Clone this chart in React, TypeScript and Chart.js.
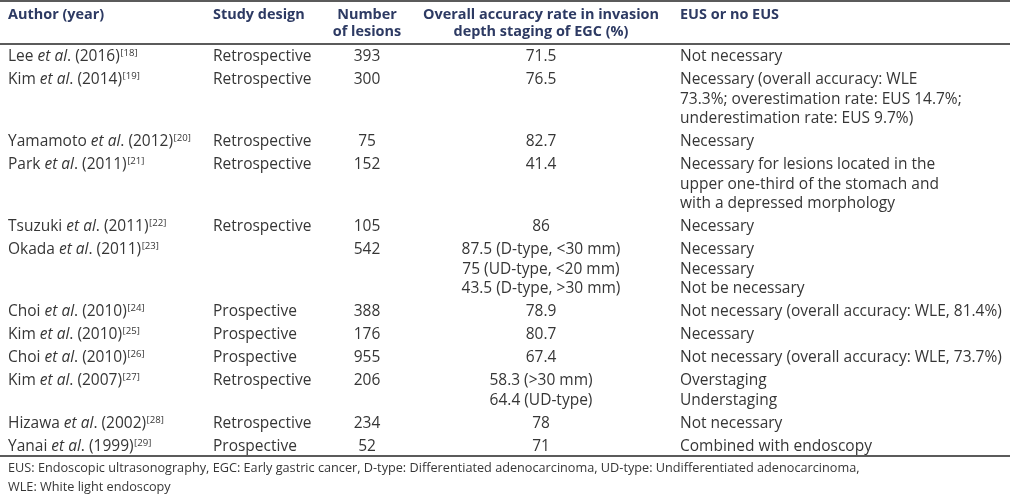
import React, { useEffect, useRef } from "react";
import { Chart, registerables } from "chart.js";

Chart.register(...registerables);

// ---------- data ----------
const headers: string[][] = [
  ["Author (year)"],
  ["Study design"],
  ["Number", "of lesions"],
  ["Overall accuracy rate in invasion", "depth staging of EGC (%)"],
  ["EUS or no EUS"],
];
const authors = ["Lee", "Kim", "Yamamoto", "Park", "Tsuzuki", "Okada", "Choi", "Kim", "Choi", "Kim", "Hizawa", "Yanai"];
const years = [2016, 2014, 2012, 2011, 2011, 2011, 2010, 2010, 2010, 2007, 2002, 1999];
const refs = [18, 19, 20, 21, 22, 23, 24, 25, 26, 27, 28, 29];
const designs = [
  "Retrospective", "Retrospective", "Retrospective", "Retrospective", "Retrospective", "",
  "Prospective", "Prospective", "Prospective", "Retrospective", "Retrospective", "Prospective",
];
const lesions = [393, 300, 75, 152, 105, 542, 388, 176, 955, 206, 234, 52];
const accuracy: string[][] = [
  ["71.5"],
  ["76.5"],
  ["82.7"],
  ["41.4"],
  ["86"],
  ["87.5 (D-type, <30 mm)", "75 (UD-type, <20 mm)", "43.5 (D-type, >30 mm)"],
  ["78.9"],
  ["80.7"],
  ["67.4"],
  ["58.3 (>30 mm)", "64.4 (UD-type)"],
  ["78"],
  ["71"],
];
const eus: string[][] = [
  ["Not necessary"],
  ["Necessary (overall accuracy: WLE", "73.3%; overestimation rate: EUS 14.7%;", "underestimation rate: EUS 9.7%)"],
  ["Necessary"],
  ["Necessary for lesions located in the", "upper one-third of the stomach and", "with a depressed morphology"],
  ["Necessary"],
  ["Necessary", "Necessary", "Not be necessary"],
  ["Not necessary (overall accuracy: WLE, 81.4%)"],
  ["Necessary"],
  ["Not necessary (overall accuracy: WLE, 73.7%)"],
  ["Overstaging", "Understaging"],
  ["Not necessary"],
  ["Combined with endoscopy"],
];
const footnotes = [
  "EUS: Endoscopic ultrasonography, EGC: Early gastric cancer, D-type: Differentiated adenocarcinoma, UD-type: Undifferentiated adenocarcinoma,",
  "WLE: White light endoscopy",
];

// ---------- layout / style ----------
const W = 1010;
const H = 494;
const FAMILY = "'Open Sans', sans-serif";
const FOOT_FAMILY = "'Open Sans', sans-serif";
const BODY_COLOR = "#363636";
const HEAD_COLOR = "#2d3a63";
const RULE_COLOR = "#262626";
const COL = { author: 8, design: 213, lesions: 367, accuracy: 541, eus: 680 };
const HEAD_Y = [14.5, 32];
const FIRST_ROW_Y = 57;
const LINE_H = 19.5;
const ROW_PAD = 3.5;
const RULES = [1, 44, 456];
const FOOT_Y = [468, 487];

function fit(ctx: CanvasRenderingContext2D, font: (s: number) => string, text: string, target: number) {
  ctx.font = font(20);
  const w = ctx.measureText(text).width;
  return (20 * target) / w;
}

const tablePlugin = {
  id: "tablePlugin",
  afterDraw(chart: any) {
    const ctx: CanvasRenderingContext2D = chart.ctx;
    const xs = chart.scales.x;
    const ys = chart.scales.y;
    const px = (v: number) => xs.getPixelForValue(v);
    const py = (v: number) => ys.getPixelForValue(v);

    const bodyFont = (s: number, style = "") => `${style} ${s}px ${FAMILY}`;
    const headFont = (s: number) => `bold ${s}px ${FAMILY}`;
    const footFont = (s: number) => `${s}px ${FOOT_FAMILY}`;
    const bodySize = fit(ctx, (s) => bodyFont(s), "Not necessary (overall accuracy: WLE, 81.4%)", 322);
    const headSize =
      (fit(ctx, headFont, "Overall accuracy rate in invasion", 230) + fit(ctx, headFont, "Author (year)", 99)) / 2;
    const footSize = fit(ctx, footFont, footnotes[0], 852);

    ctx.save();
    ctx.textBaseline = "middle";

    // rules
    ctx.fillStyle = RULE_COLOR;
    RULES.forEach((r) => {
      ctx.fillRect(px(0), py(r) - 0.75, px(W) - px(0), 1.5);
    });

    // header
    ctx.fillStyle = HEAD_COLOR;
    ctx.font = headFont(headSize);
    const headX = [COL.author, COL.design, COL.lesions, COL.accuracy, COL.eus];
    const headAlign: CanvasTextAlign[] = ["left", "left", "center", "center", "left"];
    headers.forEach((lines, c) => {
      ctx.textAlign = headAlign[c];
      lines.forEach((t, li) => ctx.fillText(t, px(headX[c]), py(HEAD_Y[li])));
    });

    // body rows
    let y = FIRST_ROW_Y;
    ctx.fillStyle = BODY_COLOR;
    authors.forEach((name, i) => {
      const n = Math.max(1, accuracy[i].length, eus[i].length);
      ctx.textAlign = "left";
      let x = px(COL.author);
      const parts: [string, string][] = [
        [name + " ", ""],
        ["et al", "italic"],
        [". (" + years[i] + ")", ""],
      ];
      parts.forEach(([t, st]) => {
        ctx.font = bodyFont(bodySize, st);
        ctx.fillText(t, x, py(y));
        x += ctx.measureText(t).width;
      });
      ctx.font = bodyFont(bodySize * 0.62);
      ctx.fillText("[" + refs[i] + "]", x + 0.5, py(y) - 3.5);

      ctx.font = bodyFont(bodySize);
      if (designs[i]) ctx.fillText(designs[i], px(COL.design), py(y));
      ctx.textAlign = "center";
      ctx.fillText(String(lesions[i]), px(COL.lesions), py(y));
      accuracy[i].forEach((t, li) => ctx.fillText(t, px(COL.accuracy), py(y + li * LINE_H)));
      ctx.textAlign = "left";
      eus[i].forEach((t, li) => ctx.fillText(t, px(COL.eus), py(y + li * LINE_H)));
      y += ROW_PAD + n * LINE_H;
    });

    // footnotes
    ctx.font = footFont(footSize);
    ctx.textAlign = "left";
    ctx.fillStyle = BODY_COLOR;
    footnotes.forEach((t, i) => ctx.fillText(t, px(COL.author), py(FOOT_Y[i])));
    ctx.restore();
  },
};

export default function App() {
  const ref = useRef<HTMLCanvasElement | null>(null);
  useEffect(() => {
    document.body.style.margin = "0";
    const canvas = ref.current!;
    const chart = new Chart(canvas, {
      type: "scatter",
      data: {
        datasets: [
          {
            data: lesions.map((v, i) => ({ x: COL.lesions, y: FIRST_ROW_Y + i })),
            pointRadius: 0,
            showLine: false,
          },
        ],
      },
      options: {
        animation: false,
        responsive: false,
        maintainAspectRatio: false,
        devicePixelRatio: 1,
        layout: { padding: 0 },
        events: [],
        scales: {
          x: { type: "linear", min: 0, max: W, display: false },
          y: { type: "linear", min: 0, max: H, reverse: true, display: false },
        },
        plugins: { legend: { display: false }, tooltip: { enabled: false } },
      },
      plugins: [tablePlugin],
    });
    return () => chart.destroy();
  }, []);
  return (
    <div style={{ width: W, height: H, background: "#fff" }}>
      <canvas ref={ref} width={W} height={H} style={{ display: "block", width: W, height: H }} />
    </div>
  );
}
